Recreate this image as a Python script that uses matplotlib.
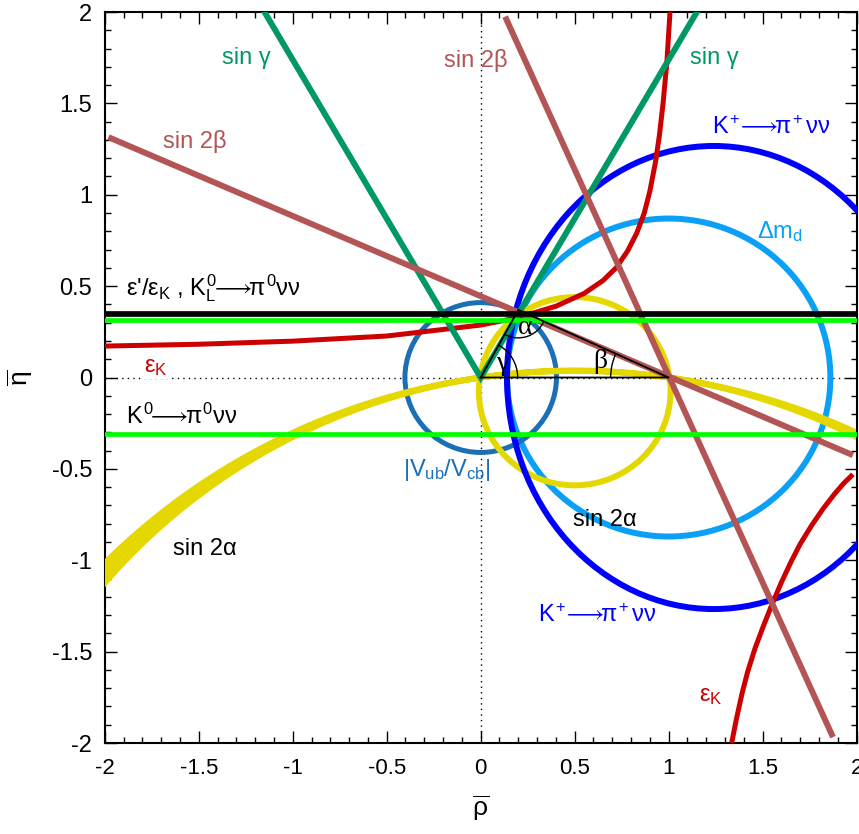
import matplotlib
matplotlib.use("Agg")
import matplotlib.pyplot as plt
from matplotlib.patches import Ellipse, Arc, Polygon
import numpy as np

plt.rcParams['font.family'] = ['Liberation Sans', 'DejaVu Sans']
plt.rcParams['mathtext.fontset'] = 'custom'
plt.rcParams['mathtext.rm'] = 'Liberation Sans'
plt.rcParams['mathtext.it'] = 'Liberation Sans'
plt.rcParams['mathtext.bf'] = 'Liberation Sans:bold'

# ---- values ----
tick_vals = [-2, -1.5, -1, -0.5, 0, 0.5, 1, 1.5, 2]
tick_labels = ['-2', '-1.5', '-1', '-0.5', '0', '0.5', '1', '1.5', '2']

# unitarity triangle corners (rho, eta)
tri_rho = [0.0, 1.0, 0.2, 0.0]
tri_eta = [0.0, 0.0, 0.37, 0.0]

# horizontal bands: eps'/eps_K (black), K_L -> pi0 nu nu (green), K0 lower (green)
eps_prime_eta = 0.346
klpnn_eta = [0.316, -0.311]

# sin 2beta lines (end points)
sin2b_a_rho = [-1.98, 1.98]
sin2b_a_eta = [1.315, -0.425]
sin2b_b_rho = [0.13, 1.874]
sin2b_b_eta = [1.975, -1.968]

# sin gamma lines
sing_rho = [-1.15, 0.0, 1.15]
sing_eta = [2.0, 0.0, 2.0]

# ellipses: (centre rho, centre eta, half width, half height)
vub = (0.0, 0.0, 0.403, 0.41)
dmd = (1.0, 0.0, 0.86, 0.87)
kpnn = (1.24, 0.0, 1.10, 1.267)
sin2a_small = (0.5, -0.075, 0.51, 0.515)

# sin 2alpha wide band: two circles through (0,0) and (1,0), centre eta values
sin2a_band_cy = [-3.46, -3.23]
sin2a_band_rho = [-2.0, 1.98]

# eps_K curve, read point by point
epsk_up_rho = [-2.0, -1.5, -1.0, -0.5, 0.0, 0.2, 0.4, 0.55, 0.65, 0.72, 0.78, 0.83,
               0.87, 0.90, 0.93, 0.95, 0.97, 0.99, 1.007]
epsk_up_eta = [0.172, 0.182, 0.199, 0.227, 0.287, 0.328, 0.39, 0.46, 0.53, 0.60, 0.69, 0.79,
               0.90, 1.02, 1.18, 1.32, 1.50, 1.72, 2.0]
epsk_lo_rho = [1.335, 1.36, 1.39, 1.42, 1.46, 1.50, 1.55, 1.60, 1.65, 1.70, 1.76, 1.82,
               1.88, 1.93, 1.98]
epsk_lo_eta = [-2.0, -1.87, -1.73, -1.61, -1.48, -1.37, -1.24, -1.12, -1.01, -0.91, -0.81,
               -0.72, -0.64, -0.58, -0.53]

c_black = 'black'
c_lime = '#00ff00'
c_red = '#cc0000'
c_brown = '#b35555'
c_green = '#009966'
c_blue = '#0000ff'
c_lblue = '#0aa0f5'
c_vub = '#1a6fb5'
c_yellow = '#e5d800'

fig = plt.figure(figsize=(8.59, 8.34), dpi=100)
ax = fig.add_axes([0.1219, 0.1091, 0.8754, 0.8765])
ax.set_xlim(-2, 2)
ax.set_ylim(-2, 2)

# dotted axes
ax.plot([-2, 2], [0, 0], color='k', lw=1.0, ls=(0, (1, 3)), zorder=1)
ax.plot([0, 0], [-2, 2], color='k', lw=1.0, ls=(0, (1, 3)), zorder=1)

# circles / ellipses
for (cx, cy, rx, ry), col, lw, z in [(dmd, c_lblue, 4.3, 2), (vub, c_vub, 3.6, 2),
                                     (sin2a_small, c_yellow, 4.3, 3),
                                     (kpnn, c_blue, 4.3, 4)]:
    ax.add_patch(Ellipse((cx, cy), 2 * rx, 2 * ry, fill=False, ec=col, lw=lw, zorder=z))

# sin 2alpha band
edges = []
for cy in sin2a_band_cy:
    r = np.hypot(0.5, cy)
    t0 = np.arccos((sin2a_band_rho[0] - 0.5) / r)
    t1 = np.arccos((sin2a_band_rho[1] - 0.5) / r)
    t = np.linspace(t0, t1, 300)
    edges.append(np.column_stack([0.5 + r * np.cos(t), cy + r * np.sin(t)]))
band = np.vstack([edges[0], edges[1][::-1]])
ax.add_patch(Polygon(band, closed=True, fc=c_yellow, ec=c_yellow, lw=4.3, zorder=3))

# eps_K
ax.plot(epsk_up_rho, epsk_up_eta, color=c_red, lw=3.6, zorder=5, solid_capstyle='butt')
ax.plot(epsk_lo_rho, epsk_lo_eta, color=c_red, lw=3.6, zorder=5, solid_capstyle='butt')

# sin gamma
ax.plot(sing_rho, sing_eta, color=c_green, lw=4.3, zorder=6, solid_joinstyle='miter')

# sin 2beta
ax.plot(sin2b_a_rho, sin2b_a_eta, color=c_brown, lw=4.3, zorder=7, solid_capstyle='butt')
ax.plot(sin2b_b_rho, sin2b_b_eta, color=c_brown, lw=4.3, zorder=7, solid_capstyle='butt')

# horizontal lines
for e in klpnn_eta:
    ax.plot([-2, 2], [e, e], color=c_lime, lw=3.4, zorder=8)
ax.plot([-2, 2], [eps_prime_eta, eps_prime_eta], color=c_black, lw=4.1, zorder=9)

# triangle and angle arcs
ax.plot(tri_rho, tri_eta, color='k', lw=1.3, zorder=10)
sx, sy = 1 / 188.0, 1 / 182.75
ax.add_patch(Arc((0, 0), 2 * 37 * sx, 2 * 37 * sy, theta1=0, theta2=61.6, color='k', lw=1.0, zorder=10))
ax.add_patch(Arc((0.2, 0.37), 2 * 28 * sx, 2 * 28 * sy, theta1=241.6, theta2=335.2, color='k', lw=1.0, zorder=10))
ax.add_patch(Arc((1, 0), 2 * 58 * sx, 2 * 58 * sy, theta1=155.2, theta2=180, color='k', lw=1.0, zorder=10))
ax.text(0.235, 0.272, 'α', family='Liberation Serif', fontsize=20, ha='center', va='center', zorder=11)
ax.text(0.12, 0.075, 'γ', family='Liberation Serif', fontsize=20, ha='center', va='center', zorder=11)
ax.text(0.635, 0.085, 'β', family='Liberation Serif', fontsize=20, ha='center', va='center', zorder=11)

# labels
fs = 17
arrow = r'\!\!\longrightarrow\!\!'
kp = r'$K^{\!+}' + arrow + r'\pi^{\!+}\nu\nu$'
ax.text(-1.248, 1.748, 'sin γ', color=c_green, fontsize=fs, ha='center', va='center')
ax.text(1.241, 1.748, 'sin γ', color=c_green, fontsize=fs, ha='center', va='center')
ax.text(-0.025, 1.737, 'sin 2β', color=c_brown, fontsize=fs, ha='center', va='center')
ax.text(-1.523, 1.29, 'sin 2β', color=c_brown, fontsize=fs, ha='center', va='center')
ax.text(1.543, 1.37, kp, color=c_blue, fontsize=fs, ha='center', va='center')
ax.text(1.59, 0.80, r'$\Delta m_d$', color=c_lblue, fontsize=fs, ha='center', va='center')
ax.text(-1.888, 0.49, r"$\varepsilon$'/$\varepsilon_K$ , $K_L^0" + arrow + r"\pi^0\nu\nu$", color='k',
        fontsize=fs, ha='left', va='center')
ax.text(-1.73, 0.06, r'$\varepsilon_K$', color=c_red, fontsize=fs, ha='center', va='center', zorder=12,
        bbox=dict(fc='white', ec='none', pad=1))
ax.text(-1.888, -0.21, r'$K^0' + arrow + r'\pi^0\nu\nu$', color='k', fontsize=fs, ha='left', va='center')
ax.text(-0.18, -0.506, r'$|V_{ub}/V_{cb}|$', color=c_vub, fontsize=fs, ha='center', va='center')
ax.text(0.66, -0.78, 'sin 2α', color='k', fontsize=fs, ha='center', va='center')
ax.text(-1.47, -0.94, 'sin 2α', color='k', fontsize=fs, ha='center', va='center')
ax.text(0.62, -1.30, kp, color=c_blue, fontsize=fs, ha='center', va='center')
ax.text(1.225, -1.745, r'$\varepsilon_K$', color=c_red, fontsize=fs, ha='center', va='center')

# ticks and frame
ax.set_xticks(tick_vals, tick_labels)
ax.set_yticks(tick_vals, tick_labels)
ax.set_xticks(np.arange(-20, 21) / 10, minor=True)
ax.set_yticks(np.arange(-20, 21) / 10, minor=True)
ax.tick_params(which='both', direction='in', top=True, right=True, width=1.0)
ax.tick_params(which='major', length=8.6)
ax.tick_params(which='minor', length=4.3)
ax.tick_params(axis='x', pad=11, labelsize=16)
ax.tick_params(axis='y', pad=9, labelsize=17)
for s in ax.spines.values():
    s.set_linewidth(1.5)

ax.set_xlabel(r'$\overline{\rho}$', fontsize=19, labelpad=10)
ax.set_ylabel(r'$\overline{\eta}$', fontsize=19, labelpad=12)

fig.savefig('out.png', dpi=100)
